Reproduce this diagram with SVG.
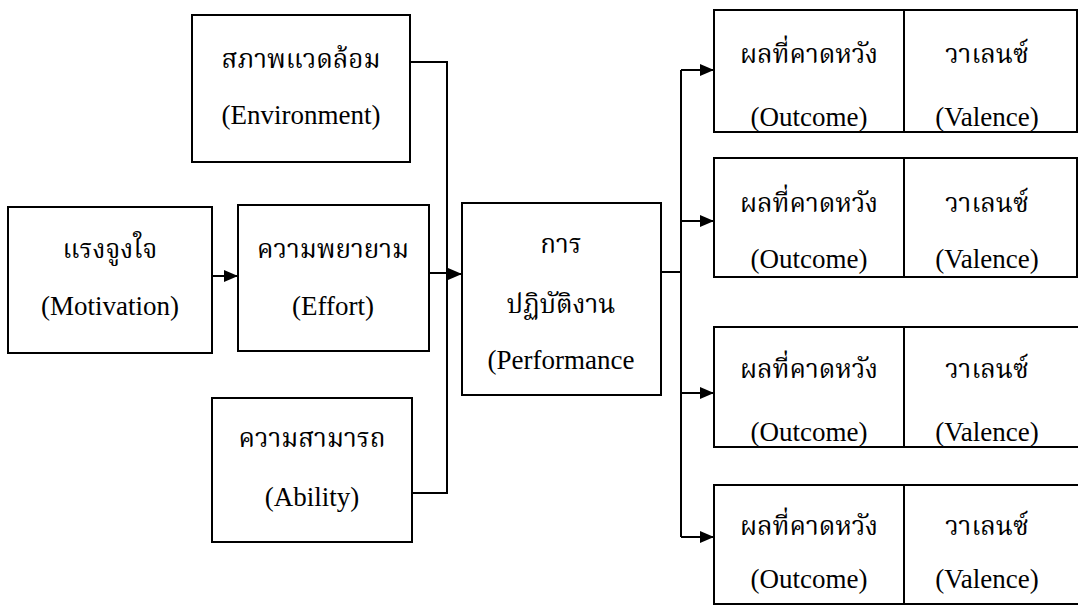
<svg xmlns="http://www.w3.org/2000/svg" width="1078" height="606" viewBox="0 0 1078 606">
<defs>
<style>
.box{fill:#fff;stroke:#000;stroke-width:2}
.ln{fill:none;stroke:#000;stroke-width:2}
.en{font-family:"Liberation Serif","Times New Roman",serif;font-size:27px;text-anchor:middle;fill:#000}
.th{font-family:"Noto Serif Thai","Noto Sans Thai","Liberation Serif",serif;font-size:26px;text-anchor:middle;fill:#000}
</style>
<marker id="ah" markerUnits="userSpaceOnUse" markerWidth="14" markerHeight="12" refX="14" refY="6" orient="auto">
<path d="M0,0 L14,6 L0,12 z" fill="#000"/>
</marker>
</defs>
<rect width="1078" height="606" fill="#fff"/>
<g id="connectors">
<path class="ln" d="M410,62 H447 V493 H412"/>
<path class="ln" d="M429,273 H447"/>
<path class="ln" d="M447,274 H462" marker-end="url(#ah)"/>
<path class="ln" d="M212,276 H238" marker-end="url(#ah)"/>
<path class="ln" d="M661,272 H681"/>
<path class="ln" d="M681,70 V537"/>
<path class="ln" d="M681,70 H714" marker-end="url(#ah)"/>
<path class="ln" d="M681,221 H714" marker-end="url(#ah)"/>
<path class="ln" d="M681,393 H714" marker-end="url(#ah)"/>
<path class="ln" d="M681,537 H714" marker-end="url(#ah)"/>
</g>
<g id="environment">
<rect class="box" x="192" y="15" width="218" height="147"/>
<text class="th" x="301" y="68">สภาพแวดล้อม</text>
<text class="en" x="301" y="124">(Environment)</text>
</g>
<g id="motivation">
<rect class="box" x="8" y="207" width="204" height="146"/>
<text class="th" x="110" y="258">แรงจูงใจ</text>
<text class="en" x="110" y="315">(Motivation)</text>
</g>
<g id="effort">
<rect class="box" x="238" y="205" width="191" height="146"/>
<text class="th" x="333" y="258">ความพยายาม</text>
<text class="en" x="333" y="315">(Effort)</text>
</g>
<g id="ability">
<rect class="box" x="212" y="398" width="200" height="144"/>
<text class="th" x="312" y="447">ความสามารถ</text>
<text class="en" x="312" y="506">(Ability)</text>
</g>
<g id="performance">
<rect class="box" x="462" y="203" width="199" height="192"/>
<text class="th" x="561" y="253">การ</text>
<text class="th" x="561" y="313">ปฏิบัติงาน</text>
<text class="en" x="561" y="369">(Performance</text>
</g>
<g id="outcome1">
<rect class="box" x="714" y="10" width="190" height="122"/>
<text class="th" x="809" y="63">ผลที่คาดหวัง</text>
<text class="en" x="809" y="126">(Outcome)</text>
</g>
<g id="valence1">
<rect class="box" x="904" y="10" width="173" height="122"/>
<text class="th" x="987" y="63">วาเลนซ์</text>
<text class="en" x="987" y="126">(Valence)</text>
</g>
<g id="outcome2">
<rect class="box" x="714" y="158" width="190" height="119"/>
<text class="th" x="809" y="212">ผลที่คาดหวัง</text>
<text class="en" x="809" y="268">(Outcome)</text>
</g>
<g id="valence2">
<rect class="box" x="904" y="158" width="173" height="119"/>
<text class="th" x="987" y="212">วาเลนซ์</text>
<text class="en" x="987" y="268">(Valence)</text>
</g>
<g id="outcome3">
<rect class="box" x="714" y="327" width="190" height="120"/>
<text class="th" x="809" y="378">ผลที่คาดหวัง</text>
<text class="en" x="809" y="441">(Outcome)</text>
</g>
<g id="valence3">
<rect class="box" x="904" y="327" width="175" height="120"/>
<text class="th" x="987" y="378">วาเลนซ์</text>
<text class="en" x="987" y="441">(Valence)</text>
</g>
<g id="outcome4">
<rect class="box" x="714" y="485" width="190" height="119"/>
<text class="th" x="809" y="535">ผลที่คาดหวัง</text>
<text class="en" x="809" y="588">(Outcome)</text>
</g>
<g id="valence4">
<rect class="box" x="904" y="485" width="175" height="119"/>
<text class="th" x="987" y="535">วาเลนซ์</text>
<text class="en" x="987" y="588">(Valence)</text>
</g>
</svg>
